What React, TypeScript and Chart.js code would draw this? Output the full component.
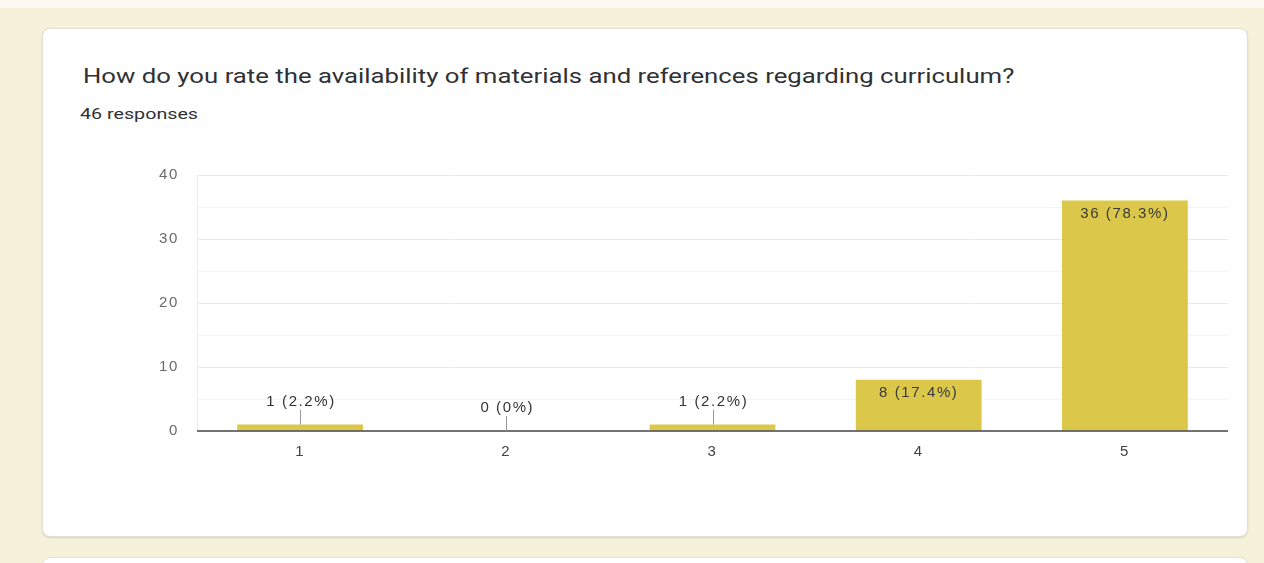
import React, { useEffect, useRef } from "react";
import { Chart, registerables } from "chart.js";

Chart.register(...registerables);

const TITLE = "How do you rate the availability of materials and references regarding curriculum?";
const SUBTITLE = "46 responses";
const categories = ["1", "2", "3", "4", "5"];
const counts = [1, 0, 1, 8, 36];
const percentLabels = ["2.2%", "0%", "2.2%", "17.4%", "78.3%"];
const yTicks = [0, 10, 20, 30, 40];

const BAR_COLOR = "#dbc74a";
const CHART_FONT = "Arial, 'Liberation Sans', sans-serif";
const LETTER_SPACING = "1.6px";

const spacingPlugin = {
  id: "spacing",
  beforeDraw(chart: any) {
    (chart.ctx as any).letterSpacing = LETTER_SPACING;
  },
};

const labelPlugin = {
  id: "barLabels",
  afterDatasetsDraw(chart: any) {
    const { ctx, chartArea, scales } = chart;
    const y0 = scales.y.getPixelForValue(0);
    ctx.save();
    ctx.strokeStyle = "#444";
    ctx.lineWidth = 1.4;
    ctx.beginPath();
    ctx.moveTo(chartArea.left, y0);
    ctx.lineTo(chartArea.right, y0);
    ctx.stroke();

    const meta = chart.getDatasetMeta(0);
    (ctx as any).letterSpacing = LETTER_SPACING;
    ctx.font = `15px ${CHART_FONT}`;
    ctx.textAlign = "center";
    ctx.textBaseline = "middle";
    meta.data.forEach((bar: any, i: number) => {
      const text = `${counts[i]} (${percentLabels[i]})`;
      const top = bar.y;
      const h = y0 - top;
      if (h > 24) {
        ctx.fillStyle = "#3a3a3a";
        ctx.fillText(text, bar.x, top + 13.5);
      } else {
        ctx.strokeStyle = "#999";
        ctx.lineWidth = 1;
        ctx.beginPath();
        ctx.moveTo(Math.round(bar.x) + 0.5, top - 15);
        ctx.lineTo(Math.round(bar.x) + 0.5, top);
        ctx.stroke();
        ctx.fillStyle = "#333";
        ctx.fillText(text, bar.x + 1, top - 23);
      }
    });
    ctx.restore();
  },
};

export default function App() {
  const canvasRef = useRef<HTMLCanvasElement | null>(null);

  useEffect(() => {
    const canvas = canvasRef.current;
    if (!canvas) return;
    const chart = new Chart(canvas, {
      type: "bar",
      data: {
        labels: categories,
        datasets: [
          {
            data: counts,
            backgroundColor: BAR_COLOR,
            barPercentage: 1,
            categoryPercentage: 0.61,
          },
        ],
      },
      options: {
        animation: false,
        responsive: false,
        devicePixelRatio: 1,
        layout: { padding: { left: 140, right: 36, top: 175, bottom: 92 } },
        plugins: { legend: { display: false }, tooltip: { enabled: false } },
        scales: {
          y: {
            min: 0,
            max: 40,
            afterFit: (s: any) => {
              s.width = 57;
            },
            ticks: {
              stepSize: 5,
              autoSkip: false,
              padding: 18,
              color: "#6a6a6a",
              font: { size: 15, family: CHART_FONT },
              callback: (v: any) => (yTicks.includes(Number(v)) ? String(v) : ""),
            },
            grid: {
              drawTicks: false,
              color: (c: any) => {
                const v = c.tick ? c.tick.value : 0;
                if (v === 0) return "rgba(0,0,0,0)";
                return v % 10 === 0 ? "#e9e9e9" : "#f4f4f4";
              },
            },
            border: { display: true, color: "#ececec" },
          },
          x: {
            afterFit: (s: any) => {
              s.height = 40;
            },
            grid: { display: false, drawTicks: false },
            border: { display: false },
            ticks: {
              padding: 12,
              color: "#444",
              font: { size: 15, family: CHART_FONT },
            },
          },
        },
      },
      plugins: [spacingPlugin, labelPlugin],
    });
    return () => chart.destroy();
  }, []);

  return (
    <div
      style={{
        position: "absolute",
        left: 0,
        top: 0,
        width: 1264,
        height: 563,
        background: "#f6f1da",
        overflow: "hidden",
      }}
    >
      <div style={{ position: "absolute", left: 0, top: 0, width: 1264, height: 8, background: "#fbf9f1" }} />
      <div
        style={{
          position: "absolute",
          left: 42,
          top: 28,
          width: 1206,
          height: 509,
          background: "#fff",
          borderRadius: 8,
          border: "1px solid #e3e0d2",
          boxSizing: "border-box",
          boxShadow: "0 1px 2px rgba(0,0,0,0.12)",
        }}
      />
      <div
        style={{
          position: "absolute",
          left: 42,
          top: 557,
          width: 1206,
          height: 40,
          background: "#fff",
          borderRadius: 8,
          border: "1px solid #e3e0d2",
          boxSizing: "border-box",
        }}
      />
      <div
        style={{
          position: "absolute",
          left: 83,
          top: 64,
          fontFamily: "Roboto, Arial, sans-serif",
          fontSize: 21,
          lineHeight: "24px",
          color: "#303134",
          whiteSpace: "nowrap",
          transform: "scaleX(1.226)",
          transformOrigin: "0 0",
        }}
      >
        {TITLE}
      </div>
      <div
        style={{
          position: "absolute",
          left: 80,
          top: 104,
          fontFamily: "Roboto, Arial, sans-serif",
          fontSize: 15.5,
          lineHeight: "20px",
          color: "#303134",
          whiteSpace: "nowrap",
          transform: "scaleX(1.27)",
          transformOrigin: "0 0",
        }}
      >
        {SUBTITLE}
      </div>
      <canvas
        ref={canvasRef}
        width={1264}
        height={563}
        style={{ position: "absolute", left: 0, top: 0, width: 1264, height: 563 }}
      />
    </div>
  );
}
